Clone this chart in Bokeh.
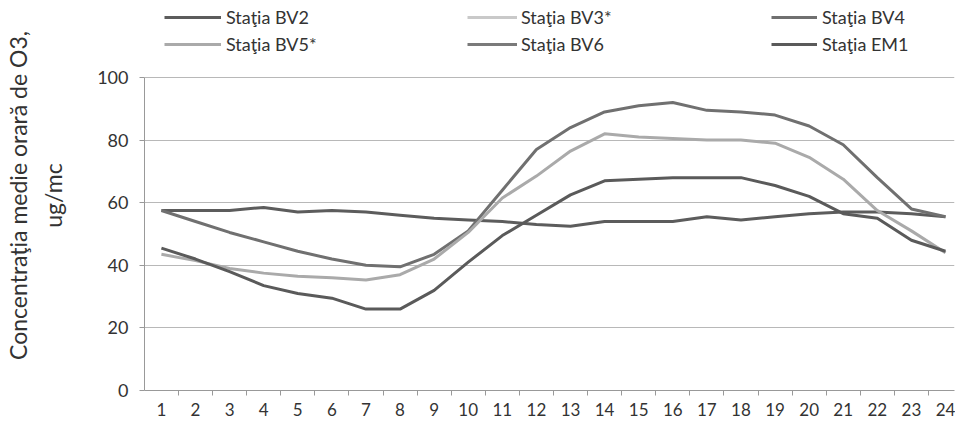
from bokeh.plotting import figure
from bokeh.models import Range1d, LinearAxis, FixedTicker, Legend, LegendItem
from bokeh.embed import file_html
from bokeh.resources import INLINE

NaN = float("nan")

# ---- data ----
hours = list(range(1, 25))
y_ticks = [0, 20, 40, 60, 80, 100]

bv2 = [57.5, 57.5, 57.5, 58.5, 57, 57.5, 57, 56, 55, 54.5, 54, 53, 52.5, 54, 54, 54,
       55.5, 54.5, 55.5, 56.5, 57, 57, 56.5, 55.5]
bv3 = [NaN] * 24  # no visible line in the chart (legend entry only)
bv4 = [57.5, 54, 50.5, 47.5, 44.5, 42, 40, 39.5, 43.5, 51, 64, 77, 84, 89, 91, 92,
       89.5, 89, 88, 84.5, 78.5, 68, 58, 55.5]
bv5 = [43.5, 41.5, 39, 37.5, 36.5, 36, 35.3, 37, 42, 50.5, 61.5, 68.5, 76.5, 82, 81, 80.5,
       80, 80, 79, 74.5, 67.5, 57.5, 51, 44]
bv6 = [NaN] * 24  # no visible line in the chart (legend entry only)
em1 = [45.5, 42, 38, 33.5, 31, 29.5, 26, 26, 32, 41, 49.5, 56, 62.5, 67, 67.5, 68,
       68, 68, 65.5, 62, 56.5, 55, 48, 44.5]

names = ["Staţia BV2", "Staţia BV3*", "Staţia BV4", "Staţia BV5*", "Staţia BV6", "Staţia EM1"]
series = [bv2, bv3, bv4, bv5, bv6, em1]
colors = ["#5c5c5c", "#c9c9c9", "#707070", "#aaaaaa", "#7a7a7a", "#5a5a5a"]

FONT = "Lato"
TXT = "#333333"

# frame spans the full canvas height above the x axis; the value axis stops at 100
p = figure(width=955, height=432, output_backend="svg", toolbar_location=None,
           x_range=Range1d(0.504, 24.264), y_range=Range1d(0, 124.6),
           min_border_left=140, min_border_right=1, min_border_top=0, min_border_bottom=42)
p.outline_line_color = None
p.background_fill_color = "white"
p.xgrid.grid_line_color = None
p.ygrid.grid_line_color = "#b8b8b8"
p.ygrid.grid_line_width = 1

items = []
for name, ys, col in zip(names, series, colors):
    r = p.line(x=hours, y=ys, line_color=col, line_width=3, line_join="round")
    items.append(LegendItem(label=name, renderers=[r]))

# x axis
xa = p.xaxis[0]
xa.ticker = FixedTicker(ticks=hours, minor_ticks=[h - 0.5 for h in hours] + [24.5])
xa.major_tick_out = 0
xa.major_tick_in = 0
xa.minor_tick_out = 5
xa.minor_tick_in = 0
xa.minor_tick_line_color = "#999999"
xa.axis_line_color = "#999999"
xa.major_label_standoff = 7
xa.major_label_text_font = FONT
xa.major_label_text_font_size = "17px"
xa.major_label_text_color = TXT

# y axis
ya = p.yaxis[0]
ya.ticker = FixedTicker(ticks=y_ticks, minor_ticks=[])
ya.bounds = (0, 100)
ya.major_tick_out = 5
ya.major_tick_in = 0
ya.major_tick_line_color = "#999999"
ya.axis_line_color = "#999999"
ya.major_label_standoff = 11
ya.major_label_text_font = FONT
ya.major_label_text_font_size = "18px"
ya.major_label_text_color = TXT
ya.axis_label = "ug/mc"
ya.axis_label_standoff = 27
ya.axis_label_text_font = FONT
ya.axis_label_text_font_size = "23px"
ya.axis_label_text_font_style = "normal"
ya.axis_label_text_color = TXT

extra = LinearAxis(ticker=FixedTicker(ticks=[], minor_ticks=[]),
                   axis_label="Concentraţia medie orară de O3,")
extra.axis_line_color = None
extra.major_tick_out = 0
extra.major_tick_in = 0
extra.minor_tick_out = 0
extra.minor_tick_in = 0
extra.axis_label_standoff = 5
extra.axis_label_text_font = FONT
extra.axis_label_text_font_size = "23px"
extra.axis_label_text_font_style = "normal"
extra.axis_label_text_color = TXT
p.add_layout(extra, "left")

# legend: three columns of two rows (BV2/BV5*, BV3*/BV6, BV4/EM1)
columns = [([items[0], items[3]], 20, 57, 5),
           ([items[1], items[4]], 323, 50, 4),
           ([items[2], items[5]], 627, 46, 5)]
for col_items, lx, gw, ls in columns:
    lg = Legend(items=col_items, location=(lx, 335), orientation="vertical",
                glyph_width=gw, glyph_height=20, label_height=20,
                label_standoff=ls, spacing=5, padding=0, margin=0,
                border_line_color=None, background_fill_alpha=0,
                label_text_font=FONT, label_text_font_size="18px", label_text_color=TXT)
    p.add_layout(lg, "center")

open("out.html", "w").write(file_html(p, INLINE))
